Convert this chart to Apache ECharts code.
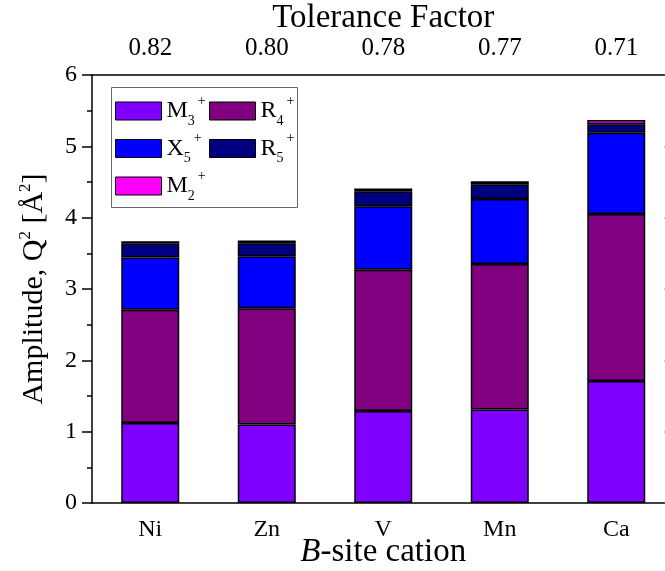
<!DOCTYPE html>
<html>
<head>
<meta charset="utf-8">
<script src="https://cdn.jsdelivr.net/npm/echarts@6/dist/echarts.min.js"></script>
<style>
  html, body { margin: 0; padding: 0; background: #fff; }
  #chart { width: 665px; height: 571px; }
</style>
</head>
<body>
<div id="chart"></div>
<script>
const cations = ['Ni', 'Zn', 'V', 'Mn', 'Ca'];
const tolerance = ['0.82', '0.80', '0.78', '0.77', '0.71'];

// mode amplitudes, stacked bottom to top
const m3 = [1.12, 1.10, 1.29, 1.31, 1.71];
const r4 = [1.59, 1.63, 1.98, 2.04, 2.34];
const x5 = [0.73, 0.73, 0.89, 0.91, 1.14];
const r5 = [0.20, 0.18, 0.21, 0.21, 0.12];
const m2 = [0.03, 0.04, 0.04, 0.04, 0.06];

const serif = 'Liberation Serif';
const chart = echarts.init(document.getElementById('chart'));

const legendRich = {
  b: { fontFamily: serif, fontSize: 24, color: '#000', lineHeight: 34 },
  sub: { fontFamily: serif, fontSize: 14, color: '#000', lineHeight: 14, verticalAlign: 'bottom' },
  sup: { fontFamily: serif, fontSize: 14, color: '#000', lineHeight: 14, verticalAlign: 'top', padding: [0, 0, 0, 3] }
};
function legendLabel(name) {
  return '{b|' + name[0] + '}{sub|' + name[1] + '}{sup|+}';
}

function barSeries(name, data, color) {
  return {
    name: name,
    type: 'bar',
    stack: 'amp',
    barWidth: 58,
    xAxisIndex: 0,
    yAxisIndex: 0,
    data: data,
    itemStyle: { color: color, borderColor: '#000', borderWidth: 1.5 }
  };
}

const legendBase = {
  orient: 'vertical',
  top: 94,
  padding: 0,
  itemGap: 3.5,
  itemWidth: 46,
  itemHeight: 18,
  icon: 'rect',
  selectedMode: false,
  itemStyle: { borderColor: '#000', borderWidth: 1 },
  formatter: legendLabel,
  textStyle: { rich: legendRich }
};

chart.setOption({
  animation: false,
  grid: { left: 92, width: 582.5, top: 75, bottom: 68, outerBoundsMode: 'none', containLabel: false },
  legend: [
    Object.assign({}, legendBase, { left: 115, data: ['M3+', 'X5+', 'M2+'] }),
    Object.assign({}, legendBase, { left: 209, data: ['R4+', 'R5+'] })
  ],
  graphic: [{
    type: 'rect',
    shape: { x: 111.5, y: 87.5, width: 186, height: 120 },
    style: { fill: 'none', stroke: '#666', lineWidth: 1 },
    z: 10
  }],
  xAxis: [
    {
      type: 'category',
      position: 'bottom',
      data: cations,
      axisLine: { lineStyle: { color: '#000', width: 1.5 } },
      axisTick: { alignWithLabel: true, length: 9, lineStyle: { color: '#000', width: 1.5 } },
      axisLabel: { fontFamily: serif, fontSize: 24, color: '#000', margin: 15 },
      name: '{i|B}-site cation',
      nameLocation: 'middle',
      nameGap: 33,
      nameMoveOverlap: false,
      nameTextStyle: {
        fontFamily: serif, fontSize: 33, color: '#000',
        rich: { i: { fontFamily: serif, fontSize: 33, fontStyle: 'italic', color: '#000' } }
      }
    },
    {
      type: 'category',
      position: 'bottom',
      data: cations,
      axisLine: { show: false },
      axisTick: { length: 5, lineStyle: { color: '#000', width: 1.5 } },
      axisLabel: { show: false }
    },
    {
      type: 'category',
      position: 'top',
      data: tolerance,
      axisLine: { lineStyle: { color: '#000', width: 1.5 } },
      axisTick: { alignWithLabel: true, inside: true, length: 10, lineStyle: { color: '#000', width: 1.5 } },
      axisLabel: { fontFamily: serif, fontSize: 25, color: '#000', margin: 14 },
      name: 'Tolerance Factor',
      nameLocation: 'middle',
      nameGap: 40,
      nameMoveOverlap: false,
      nameTextStyle: { fontFamily: serif, fontSize: 33, color: '#000' }
    },
    {
      type: 'category',
      position: 'top',
      data: tolerance,
      axisLine: { show: false },
      axisTick: { inside: true, length: 4, lineStyle: { color: '#000', width: 1.5 } },
      axisLabel: { show: false }
    }
  ],
  yAxis: [
    {
      type: 'value',
      min: 0,
      max: 6,
      interval: 1,
      splitLine: { show: false },
      axisLine: { show: true, lineStyle: { color: '#000', width: 1.5 } },
      axisTick: { show: true, length: 10, lineStyle: { color: '#000', width: 1.5 } },
      minorTick: { show: true, splitNumber: 2, length: 5, lineStyle: { color: '#000', width: 1.5 } },
      axisLabel: { fontFamily: serif, fontSize: 24, color: '#000', margin: 15 },
      name: 'Amplitude, Q{sup|2} [Å{sup|2}]',
      nameLocation: 'middle',
      nameRotate: 90,
      nameGap: 41,
      nameMoveOverlap: false,
      nameTextStyle: {
        fontFamily: serif, fontSize: 30, color: '#000',
        rich: { sup: { fontFamily: serif, fontSize: 17, color: '#000', verticalAlign: 'top', lineHeight: 34 } }
      }
    },
    {
      type: 'value',
      position: 'right',
      min: 0,
      max: 6,
      interval: 1,
      splitLine: { show: false },
      axisLine: { show: true, lineStyle: { color: '#000', width: 1.5 } },
      axisTick: { show: true, inside: true, length: 10, lineStyle: { color: '#777', width: 1.5 } },
      minorTick: { show: false },
      axisLabel: { show: false }
    }
  ],
  series: [
    barSeries('M3+', m3, '#8000ff'),
    barSeries('R4+', r4, '#800080'),
    barSeries('X5+', x5, '#0000ff'),
    barSeries('R5+', r5, '#000080'),
    barSeries('M2+', m2, '#ff00ff')
  ]
});
</script>
</body>
</html>
